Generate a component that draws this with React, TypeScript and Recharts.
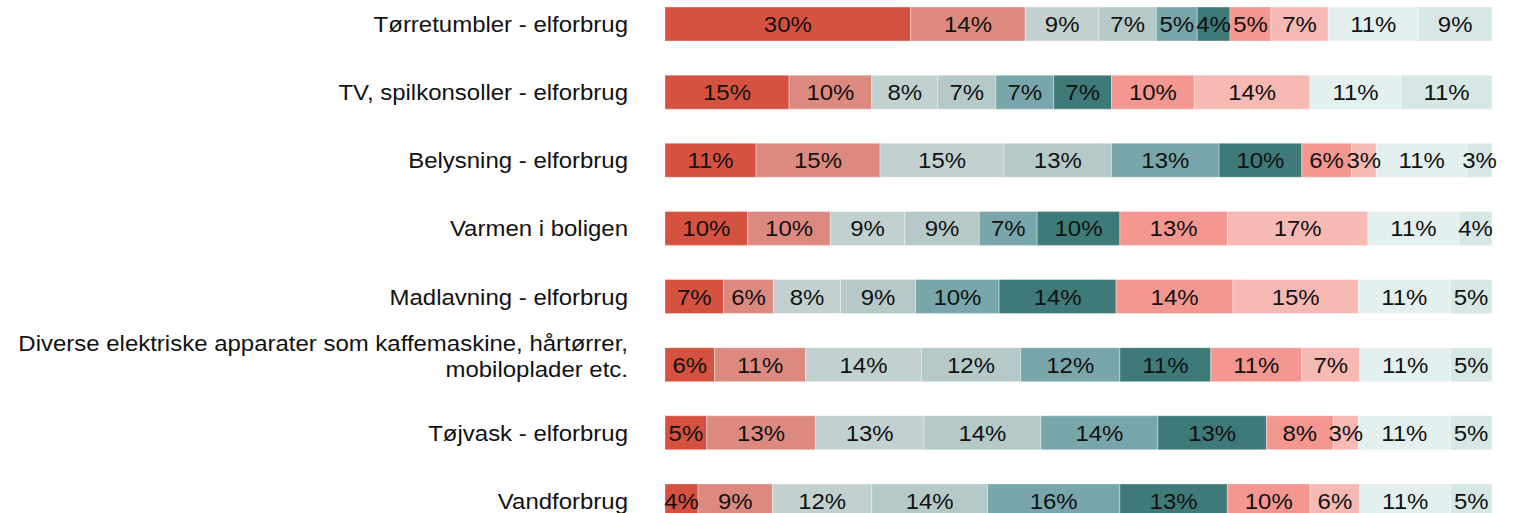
import { BarChart, Bar, XAxis, YAxis, LabelList } from "recharts";

const categories = [
  "Tørretumbler - elforbrug",
  "TV, spilkonsoller - elforbrug",
  "Belysning - elforbrug",
  "Varmen i boligen",
  "Madlavning - elforbrug",
  "Diverse elektriske apparater som kaffemaskine, hårtørrer,\nmobiloplader etc.",
  "Tøjvask - elforbrug",
  "Vandforbrug",
];

// ten answer groups, left to right
const s1 = [30, 15, 11, 10, 7, 6, 5, 4];
const s2 = [14, 10, 15, 10, 6, 11, 13, 9];
const s3 = [9, 8, 15, 9, 8, 14, 13, 12];
const s4 = [7, 7, 13, 9, 9, 12, 14, 14];
const s5 = [5, 7, 13, 7, 10, 12, 14, 16];
const s6 = [4, 7, 10, 10, 14, 11, 13, 13];
const s7 = [5, 10, 6, 13, 14, 11, 8, 10];
const s8 = [7, 14, 3, 17, 15, 7, 3, 6];
const s9 = [11, 11, 11, 11, 11, 11, 11, 11];
const s10 = [9, 11, 3, 4, 5, 5, 5, 5];

const series = [s1, s2, s3, s4, s5, s6, s7, s8, s9, s10];
const colors = [
  "#d65240",
  "#dc8a80",
  "#c2d1d0",
  "#b5c9c8",
  "#78a6aa",
  "#3d7a78",
  "#f39790",
  "#f7b9b3",
  "#e3f0ef",
  "#d6e7e6",
];

const data = categories.map((name, i) => {
  const row: Record<string, string | number> = { name };
  series.forEach((s, j) => {
    row[`s${j + 1}`] = s[i];
  });
  return row;
});

const FONT = "Arial, 'Liberation Sans', sans-serif";
// the source text is slightly stretched sideways
const STRETCH = 1.09;

function CategoryTick({ x, y, payload }: any) {
  const lines = String(payload.value).split("\n");
  return (
    <g transform={`translate(${x},${y}) scale(${STRETCH},1)`}>
      <text textAnchor="end" fontSize={22} fontFamily={FONT} fill="#111">
        {lines.length === 1 ? (
          <tspan x={0} y={8}>{lines[0]}</tspan>
        ) : (
          <>
            <tspan x={0} y={-14}>{lines[0]}</tspan>
            <tspan x={0} y={12}>{lines[1]}</tspan>
          </>
        )}
      </text>
    </g>
  );
}

function SegmentLabel({ x, y, width, height, value }: any) {
  const cx = Number(x) + Number(width) / 2;
  const cy = Number(y) + Number(height) / 2;
  return (
    <g transform={`translate(${cx},${cy}) scale(${STRETCH},1)`}>
      <text x={0} y={8} textAnchor="middle" fontSize={22} fontFamily={FONT} fill="#111">
        {`${value}%`}
      </text>
    </g>
  );
}

export default function App() {
  return (
    <>
      <style>{"body{margin:0}"}</style>
      <div style={{ position: "relative", width: 1516, height: 513, overflow: "hidden", background: "#fff" }}>
        <div style={{ position: "absolute", top: -10, left: 0 }}>
          <BarChart
            width={1516}
            height={545}
            data={data}
            layout="vertical"
            stackOffset="expand"
            barSize={34}
            margin={{ top: 0, right: 24, bottom: 0, left: 0 }}
          >
            <XAxis type="number" hide domain={[0, 1]} />
            <YAxis
              type="category"
              dataKey="name"
              width={665}
              axisLine={false}
              tickLine={false}
              tickMargin={31}
              interval={0}
              tick={<CategoryTick />}
            />
            {series.map((_, j) => (
              <Bar
                key={j}
                dataKey={`s${j + 1}`}
                stackId="a"
                fill={colors[j]}
                stroke="#ffffff"
                strokeOpacity={0.35}
                strokeWidth={1}
                isAnimationActive={false}
              >
                <LabelList dataKey={`s${j + 1}`} content={<SegmentLabel />} />
              </Bar>
            ))}
          </BarChart>
        </div>
      </div>
    </>
  );
}
